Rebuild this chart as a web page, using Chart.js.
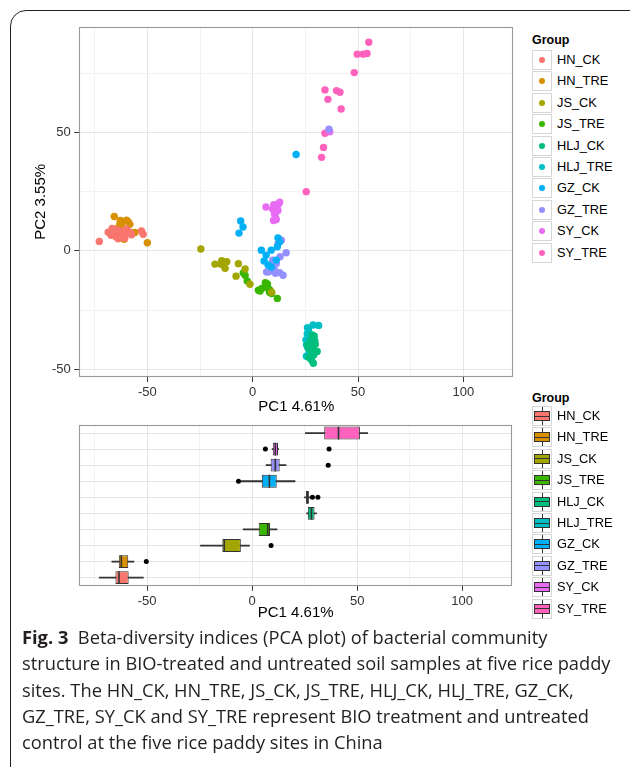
<!DOCTYPE html>
<html><head><meta charset="utf-8">
<script src="https://cdn.jsdelivr.net/npm/chart.js@4.4.1/dist/chart.umd.min.js"></script>
<style>
html,body{margin:0;padding:0;background:#fff;width:630px;height:767px;overflow:hidden;font-family:"Liberation Sans",Arial,sans-serif;}
#frame{position:absolute;left:10px;top:10px;width:720px;height:820px;border:1.5px solid #222;border-radius:16px;box-sizing:border-box;}
canvas{position:absolute;left:0;}
#c1{top:0px}
#c2{top:410px}
.lgt{position:absolute;font-size:12.5px;font-weight:bold;color:#000;line-height:16px;}
.lgl{position:absolute;font-size:12.8px;color:#000;line-height:16px;white-space:nowrap;}
.key{position:absolute;width:20px;height:20px;border:1px solid #d6d6d6;box-sizing:border-box;background:#fff;}
#cap{position:absolute;left:22px;top:624px;font-family:"Open Sans",sans-serif;font-size:18.3px;line-height:26.3px;color:#231f20;white-space:nowrap;}
</style></head>
<body>
<div id="frame"></div>
<canvas id="c1" width="520" height="420"></canvas>
<canvas id="c2" width="520" height="215"></canvas>
<div id="legends"></div>
<div id="cap"><b>Fig. 3</b>&nbsp; Beta-diversity indices (PCA plot) of bacterial community<br>structure in BIO-treated and untreated soil samples at five rice paddy<br>sites. The HN_CK, HN_TRE, JS_CK, JS_TRE, HLJ_CK, HLJ_TRE, GZ_CK,<br>GZ_TRE, SY_CK and SY_TRE represent BIO treatment and untreated<br>control at the five rice paddy sites in China</div>
<script>
// ---------- data ----------
const categories = ['HN_CK','HN_TRE','JS_CK','JS_TRE','HLJ_CK','HLJ_TRE','GZ_CK','GZ_TRE','SY_CK','SY_TRE'];
const colors = ['#F8766D','#D89000','#A3A500','#39B600','#00BF7D','#00BFC4','#00B0F6','#9590FF','#E76BF3','#FF62BC'];

const HN_CK = [[-72.8,4.0],[-68.6,7.9],[-67.2,6.6],[-66.7,9.5],[-65.5,7.2],[-64.8,5.8],[-64.6,8.9],[-64.0,6.0],[-63.8,5.1],[-63.2,8.5],[-62.3,8.2],[-60.7,7.5],[-60.7,5.3],[-59.9,9.3],[-58.3,7.9],[-57.5,6.8],[-52.8,8.4],[-52.0,7.0]];
const HN_TRE = [[-67.0,7.8],[-65.7,14.5],[-64.2,8.5],[-63.8,9.8],[-63.0,11.6],[-62.8,12.8],[-62.3,10.9],[-62.0,6.2],[-61.5,9.5],[-61.0,4.9],[-59.9,13.0],[-59.1,12.3],[-58.3,11.2],[-55.9,7.8],[-50.0,3.4]];
const JS_CK = [[-24.6,0.8],[-17.9,-5.6],[-15.2,-5.6],[-14.7,-4.2],[-13.9,-6.0],[-13.5,-5.0],[-13.1,-7.4],[-12.3,-4.6],[-7.9,-10.7],[-6.8,-5.4],[-3.6,-7.7],[-1.3,-14.1],[9.0,-17.5]];
const JS_TRE = [[-4.5,-9.3],[-3.6,-10.3],[-2.6,-12.7],[2.7,-16.6],[3.5,-17.0],[4.3,-15.9],[6.0,-13.5],[6.6,-14.6],[7.0,-14.0],[7.4,-15.9],[8.0,-17.5],[8.2,-16.6],[9.0,-18.0],[11.7,-20.1]];
const HLJ_CK = [[25.9,-40.0],[26.5,-45.0],[26.9,-41.5],[27.5,-38.0],[27.8,-46.0],[28.0,-43.5],[28.2,-35.5],[28.5,-41.0],[28.8,-47.5],[29.0,-44.0],[29.2,-36.0],[29.5,-38.0],[29.7,-39.5],[30.6,-42.5]];
const HLJ_TRE = [[28.7,-31.3],[31.3,-31.5],[26.5,-33.4],[25.3,-37.6],[25.6,-39.7],[26.2,-41.1],[27.0,-36.9],[25.9,-35.0],[26.8,-43.0],[25.5,-44.5],[27.2,-38.5],[26.0,-32.5]];
const GZ_CK = [[-6.5,7.5],[-5.7,12.6],[-4.6,10.1],[4.1,0.3],[5.4,-4.3],[6.4,-1.8],[7.3,-6.0],[8.8,0.3],[8.8,-6.8],[11.2,-3.9],[11.7,1.7],[12.0,5.5],[12.8,3.8],[20.6,40.7]];
const GZ_TRE = [[6.6,-8.9],[7.3,-8.9],[9.0,-8.5],[9.5,-4.0],[10.4,-8.2],[10.8,-9.5],[11.2,-5.3],[12.0,3.0],[12.8,-9.2],[13.0,-2.5],[13.6,4.5],[14.4,-10.3],[15.9,-0.8],[36.2,51.4]];
const SY_CK = [[6.3,18.5],[9.5,17.6],[9.9,12.8],[10.0,19.5],[10.4,15.5],[10.8,14.0],[11.0,16.5],[11.2,13.2],[11.6,18.8],[12.0,17.0],[12.3,19.8],[12.8,20.6],[36.6,50.3]];
const SY_TRE = [[25.4,25.0],[32.7,39.5],[33.6,43.7],[34.3,49.7],[34.3,68.0],[35.7,64.0],[39.8,67.7],[41.4,67.0],[42.0,59.9],[48.2,75.3],[49.6,83.1],[52.4,83.1],[54.3,83.4],[55.1,88.1]];
const groupPoints = [HN_CK, HN_TRE, JS_CK, JS_TRE, HLJ_CK, HLJ_TRE, GZ_CK, GZ_TRE, SY_CK, SY_TRE];

// box-plot statistics (PC1), category order as above
const whiskerLow  = [-72.8, -66.8, -24.6, -4.3, 25.9, 24.9, -5.2,  6.6,  9.5, 25.3];
const boxQ1       = [-65.1, -63.5, -14.2,  3.1, 26.5, 25.6,  4.6,  8.8,  9.8, 34.3];
const boxMedian   = [-63.4, -62.3, -13.3,  7.4, 28.2, 26.3,  8.2, 11.0, 11.0, 41.1];
const boxQ3       = [-58.8, -59.0,  -5.4,  8.5, 29.7, 27.0, 11.7, 13.1, 12.3, 51.3];
const whiskerHigh = [-51.8, -56.3,  -1.3, 11.8, 30.6, 27.5, 20.4, 16.1, 12.6, 55.0];
const outlierGroup = ['HN_TRE','JS_CK','HLJ_TRE','HLJ_TRE','GZ_CK','GZ_TRE','SY_CK','SY_CK'];
const outlierValue = [-50.4, 9.0, 28.7, 31.3, -6.5, 36.2, 6.3, 36.6];

// axes
const xTicks = [-75,-50,-25,0,25,50,75,100];
const xTickLabels = [-50,0,50,100];
const yTicks = [-50,-25,0,25,50,75];
const yTickLabels = [-50,0,50];
const xTitle = 'PC1 4.61%';
const yTitle = 'PC2 3.55%';

// ---------- rendering ----------
Chart.defaults.font.family = '"Liberation Sans", Arial, sans-serif';
Chart.defaults.color = '#333';

const MAJOR = '#e6e6e6', MINOR = '#f2f2f2', TICK = '#333';
function gridCfg(labelled) {
  return {
    color: c => (c.tick && labelled.includes(c.tick.value)) ? MAJOR : MINOR,
    lineWidth: 1,
    tickColor: c => (c.tick && labelled.includes(c.tick.value)) ? TICK : 'rgba(0,0,0,0)',
    tickLength: 5,
    drawTicks: true
  };
}
const panelBorder = {
  id: 'panelBorder',
  afterDraw(chart) {
    const {ctx, chartArea: a} = chart;
    ctx.save();
    ctx.strokeStyle = '#999';
    ctx.lineWidth = 1.1;
    ctx.strokeRect(Math.round(a.left) + 0.5, Math.round(a.top) + 0.5, Math.round(a.right - a.left) - 1, Math.round(a.bottom - a.top) - 1);
    ctx.restore();
  }
};
const X_MIN = -82.3, X_MAX = 123.7;
function xScale(titleBottom, height) {
  return {
    type: 'linear', min: X_MIN, max: X_MAX,
    afterBuildTicks: s => { s.ticks = xTicks.map(v => ({value: v})); },
    afterFit: s => { s.height = height; },
    ticks: { callback: v => xTickLabels.includes(v) ? String(v) : '', font: {size: 13}, color: '#333', padding: 2.9, maxRotation: 0, autoSkip: false },
    grid: gridCfg(xTickLabels),
    border: { display: false },
    title: { display: true, text: xTitle, font: {size: 15}, color: '#000', padding: {top: 0, bottom: titleBottom} }
  };
}

new Chart(document.getElementById('c1'), {
  type: 'scatter',
  data: {
    datasets: categories.map((c, i) => ({
      label: c,
      data: groupPoints[i].map(p => ({x: p[0], y: p[1]})),
      backgroundColor: colors[i],
      borderWidth: 0,
      pointRadius: 3.7,
      pointHoverRadius: 3.7
    }))
  },
  options: {
    responsive: false, animation: false, devicePixelRatio: 1,
    layout: { padding: {top: 26.7, right: 6.7, left: 0, bottom: 0} },
    plugins: { legend: {display: false}, tooltip: {enabled: false} },
    scales: {
      x: xScale(4.3, 43),
      y: {
        type: 'linear', min: -53.3, max: 94.7,
        afterBuildTicks: s => { s.ticks = yTicks.map(v => ({value: v})); },
        afterFit: s => { s.width = 79.3; },
        ticks: { callback: v => yTickLabels.includes(v) ? String(v) : '', font: {size: 13}, color: '#333', padding: 3.5 },
        grid: gridCfg(yTickLabels),
        border: { display: false },
        title: { display: true, text: yTitle, font: {size: 15}, color: '#000', padding: {top: 32, bottom: 0} }
      }
    }
  },
  plugins: [panelBorder]
});

new Chart(document.getElementById('c2'), {
  type: 'bar',
  data: {
    labels: categories,
    datasets: [
      { type: 'scatter', label: 'outliers', order: 0,
        data: outlierValue.map((v, i) => ({x: v, y: outlierGroup[i]})),
        backgroundColor: '#000', borderWidth: 0, pointRadius: 2.5, pointHoverRadius: 2.5 },
      { type: 'scatter', label: 'median', order: 1,
        data: boxMedian.map((v, i) => ({x: v, y: categories[i]})),
        pointStyle: 'line', rotation: 90, pointRadius: 6.4, pointHoverRadius: 6.4,
        borderColor: '#333', borderWidth: 1.6, backgroundColor: '#333' },
      { type: 'bar', label: 'box', order: 2, grouped: false,
        data: boxQ1.map((v, i) => [v, boxQ3[i]]),
        backgroundColor: colors, borderColor: '#333', borderWidth: 1, borderSkipped: false,
        barPercentage: 0.8, categoryPercentage: 1 },
      { type: 'bar', label: 'whisker', order: 3, grouped: false,
        data: whiskerLow.map((v, i) => [v, whiskerHigh[i]]),
        backgroundColor: '#333', borderWidth: 0, barThickness: 1.1 }
    ]
  },
  options: {
    indexAxis: 'y',
    responsive: false, animation: false, devicePixelRatio: 1,
    layout: { padding: {top: 15, right: 6, left: 0, bottom: 0} },
    plugins: { legend: {display: false}, tooltip: {enabled: false} },
    scales: {
      x: xScale(3, 39.3),
      y: {
        type: 'category', reverse: true, offset: true,
        afterFit: s => { s.width = 79.3; },
        ticks: { display: false },
        grid: { offset: false, color: MAJOR, drawTicks: false },
        border: { display: false }
      }
    }
  },
  plugins: [panelBorder]
});

// ---------- legends (HTML text) ----------
function buildLegend(titleCenter, firstCenter, kind) {
  const host = document.getElementById('legends');
  const t = document.createElement('div');
  t.className = 'lgt'; t.textContent = 'Group';
  t.style.left = '532px'; t.style.top = (titleCenter - 8) + 'px';
  host.appendChild(t);
  categories.forEach((c, i) => {
    const cy = firstCenter + i * 21.4;
    const k = document.createElement('div');
    k.className = 'key';
    k.style.left = '532px'; k.style.top = (cy - 10) + 'px';
    if (kind === 'point') {
      const d = document.createElement('div');
      d.style.cssText = 'position:absolute;left:6px;top:6px;width:6px;height:6px;border-radius:50%;background:' + colors[i];
      k.appendChild(d);
    } else {
      const w = document.createElement('div');
      w.style.cssText = 'position:absolute;left:8.5px;top:0px;width:1px;height:18px;background:#333';
      k.appendChild(w);
      const b = document.createElement('div');
      b.style.cssText = 'position:absolute;left:1px;top:4px;width:16px;height:10px;box-sizing:border-box;border:1px solid #333;background:' + colors[i];
      k.appendChild(b);
      const m = document.createElement('div');
      m.style.cssText = 'position:absolute;left:1px;top:8.5px;width:16px;height:1px;background:#333';
      k.appendChild(m);
    }
    host.appendChild(k);
    const l = document.createElement('div');
    l.className = 'lgl'; l.textContent = c;
    l.style.left = '557px'; l.style.top = (cy - 8) + 'px';
    host.appendChild(l);
  });
}
buildLegend(40, 60, 'point');
buildLegend(398, 416, 'box');
</script>
</body></html>
